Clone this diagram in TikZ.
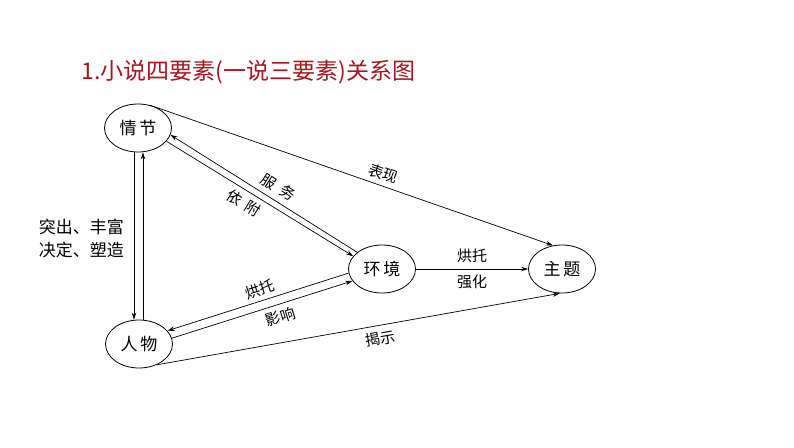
\documentclass[tikz,border=0pt]{standalone}
\usepackage{fontspec}
\newfontfamily\cjk{Noto Sans CJK SC}
\usepackage{xcolor}
\usetikzlibrary{positioning,arrows.meta,shapes.geometric}
\definecolor{titlered}{RGB}{165,22,32}

\begin{document}
\begin{tikzpicture}[x=1pt, y=-1pt,
    elem/.style={ellipse, draw, line width=0.8, minimum width=67, minimum height=48, inner sep=0, font=\cjk\fontsize{17}{17}\selectfont},
    lbl/.style={font=\cjk\fontsize{15}{15}\selectfont, inner sep=2},
    link/.style={line width=0.7, -{Stealth[length=7,width=4.5]}}]
\useasboundingbox (0,0) rectangle (794,447);

    \node (title) [anchor=west, text=titlered, font=\cjk\fontsize{23}{23}\selectfont] at (78,72) {1.小说四要素(一说三要素)关系图};

    \node [elem] (qj) at (138,128) {情\,节};
    \node [elem] (rw) at (139,344) {人\,物};
    \node [elem] (hj) at (382,269) {环\,境};
    \node [elem] (zt) at (562,269) {主\,题};

    \draw [link] ([xshift=-4]qj.south)--([xshift=-5]rw.north);
    \draw [link] ([xshift=4]rw.north)--([xshift=5]qj.south);
    \node (tc) [lbl, align=center, anchor=east, font=\cjk\fontsize{17}{23}\selectfont] at (126,238) {突出、丰富\\决定、塑造};

    \draw [link] (hj.146)--node [lbl, above=4pt, sloped, pos=0.46] {服\hspace{7pt}务} (qj.-12);
    \draw [link] (qj.-25)--node [lbl, below=3pt, sloped, pos=0.45] {依\hspace{6pt}附} (hj.156);

    \draw [link] (hj.-173)--node [lbl, above=2pt, sloped, pos=0.47] {烘托} (rw.25);
    \draw [link] (rw.10)--node [lbl, below=3pt, sloped, pos=0.58] {影响} (hj.-158);

    \draw [link] (hj)--node [lbl, above=4pt] {烘托} node [lbl, below=4pt] {强化} (zt);

    \draw [link] (qj.62)--node [lbl, above=3pt, sloped, pos=0.57] {表现} (zt.111);
    \draw [link] (rw.-50)--node [lbl, below=4pt, sloped, pos=0.55] {揭示} (zt.-95);

\end{tikzpicture}
\end{document}
